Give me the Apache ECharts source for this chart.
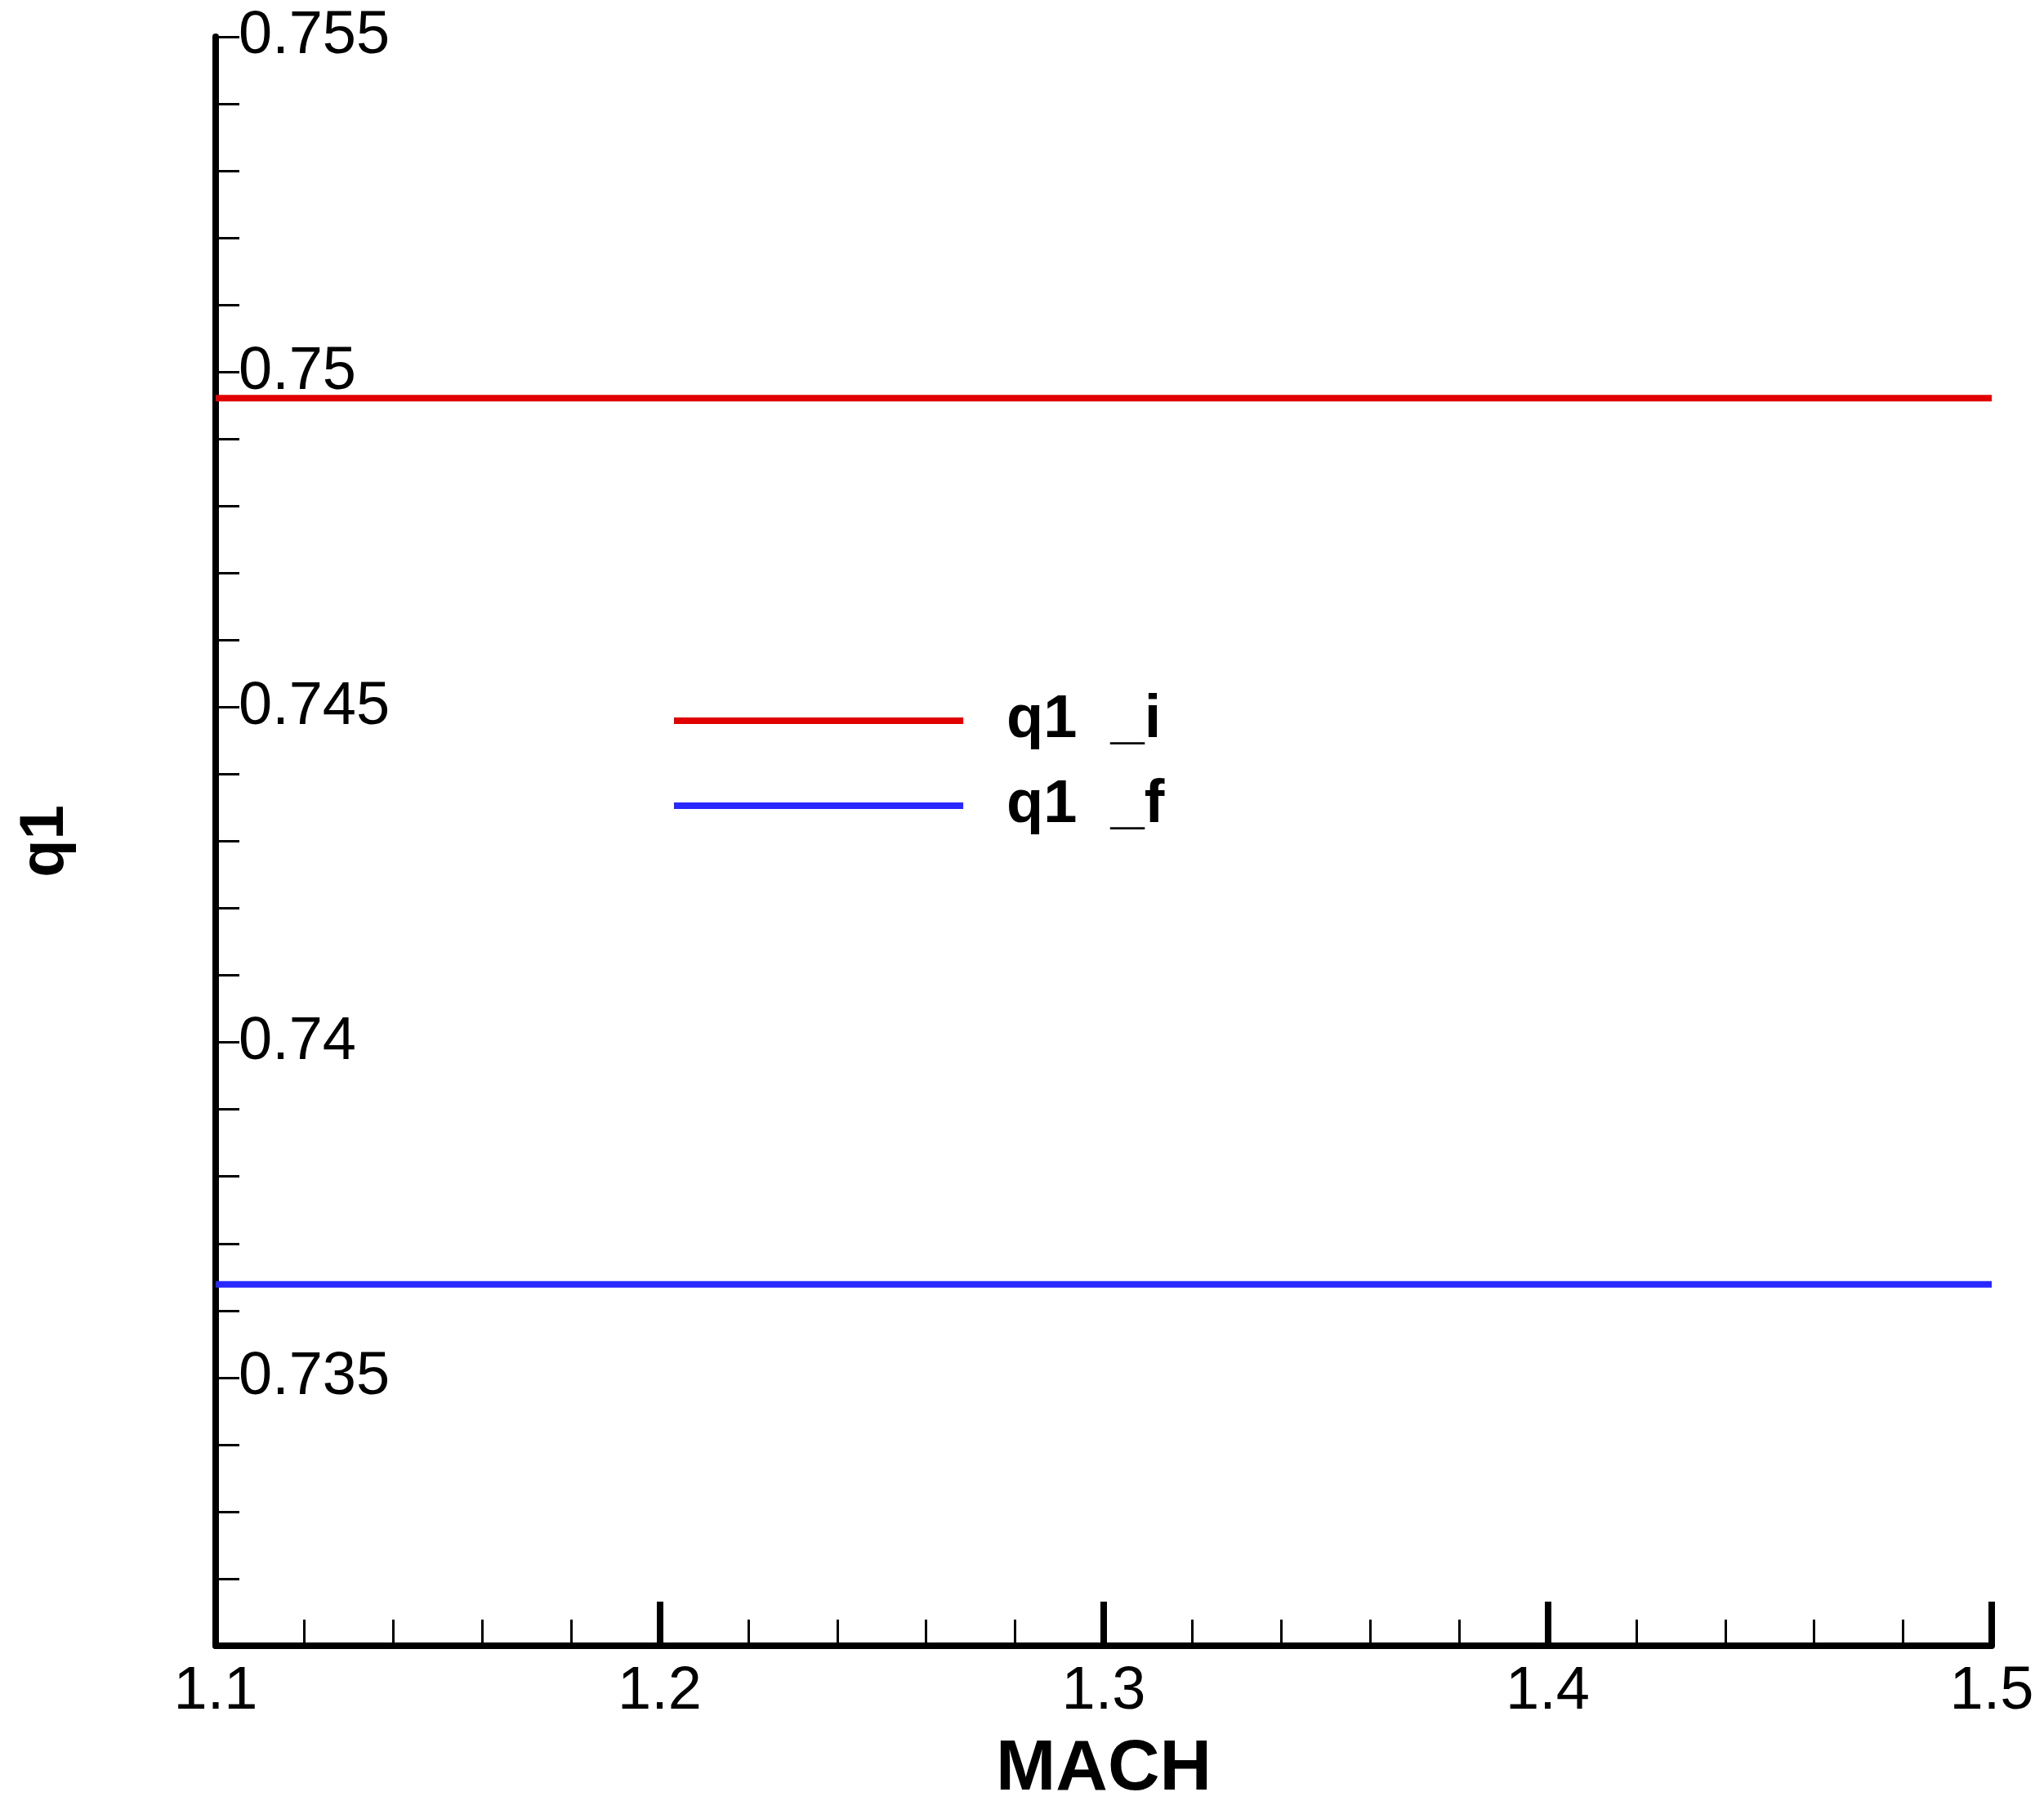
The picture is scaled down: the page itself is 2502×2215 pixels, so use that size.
<!DOCTYPE html>
<html>
<head>
<meta charset="utf-8">
<script src="https://cdn.jsdelivr.net/npm/echarts@6/dist/echarts.min.js"></script>
<style>html,body{margin:0;padding:0;background:#fff}#chart{width:2502px;height:2215px}</style>
</head>
<body>
<div id="chart"></div>
<script>
var mach = [1.1, 1.5];
var q1_i = [0.74961, 0.74961];
var q1_f = [0.73639, 0.73639];
var seriesNames = ['q1  _i', 'q1  _f'];

function pairs(xs, ys) {
  var out = [];
  for (var i = 0; i < xs.length; i++) out.push([xs[i], ys[i]]);
  return out;
}

var font = 'Arial, "Liberation Sans", sans-serif';
var myChart = echarts.init(document.getElementById('chart'));
var option = {
  animation: false,
  backgroundColor: '#fff',
  grid: {left: 264, right: 64, top: 45, bottom: 158},
  legend: {
    orient: 'vertical', left: 820, top: 840, itemGap: 30,
    itemWidth: 354, itemHeight: 8, icon: 'rect',
    textStyle: {fontFamily: font, fontSize: 74, fontWeight: 'bold', color: '#000', padding: [0, 0, 0, 48]},
    data: seriesNames
  },
  xAxis: {
    type: 'value', min: 1.1, max: 1.5, interval: 0.1,
    name: 'MACH', nameLocation: 'middle', nameGap: 108,
    nameTextStyle: {fontFamily: font, fontSize: 88, fontWeight: 'bold', color: '#000'},
    axisLine: {lineStyle: {color: '#000', width: 8}},
    axisTick: {inside: true, length: 54, lineStyle: {color: '#000', width: 8}},
    minorTick: {show: true, splitNumber: 5, length: 32, lineStyle: {color: '#000', width: 3}},
    splitLine: {show: false},
    axisLabel: {fontFamily: font, fontSize: 74, color: '#000', margin: 20,
      formatter: function (v) { return v.toFixed(1); }}
  },
  yAxis: {
    type: 'value', min: 0.731, max: 0.755, interval: 0.001,
    name: 'q1', nameLocation: 'middle', nameGap: 170, nameRotate: 90,
    nameTextStyle: {fontFamily: font, fontSize: 76, fontWeight: 'bold', color: '#000'},
    axisLine: {lineStyle: {color: '#000', width: 8}},
    axisTick: {inside: true, length: 29, lineStyle: {color: '#000', width: 3}},
    splitLine: {show: false},
    axisLabel: {inside: true, fontFamily: font, fontSize: 74, color: '#000', margin: 28,
      formatter: function (v) {
        var m = Math.round(v * 1000);
        return m % 5 === 0 ? String(m / 1000) : '';
      }}
  },
  series: [
    {name: seriesNames[0], type: 'line', showSymbol: false, data: pairs(mach, q1_i),
     lineStyle: {color: '#e00000', width: 8}, itemStyle: {color: '#e00000'}},
    {name: seriesNames[1], type: 'line', showSymbol: false, data: pairs(mach, q1_f),
     lineStyle: {color: '#2828ff', width: 8}, itemStyle: {color: '#2828ff'}}
  ]
};
myChart.setOption(option);
</script>
</body>
</html>
